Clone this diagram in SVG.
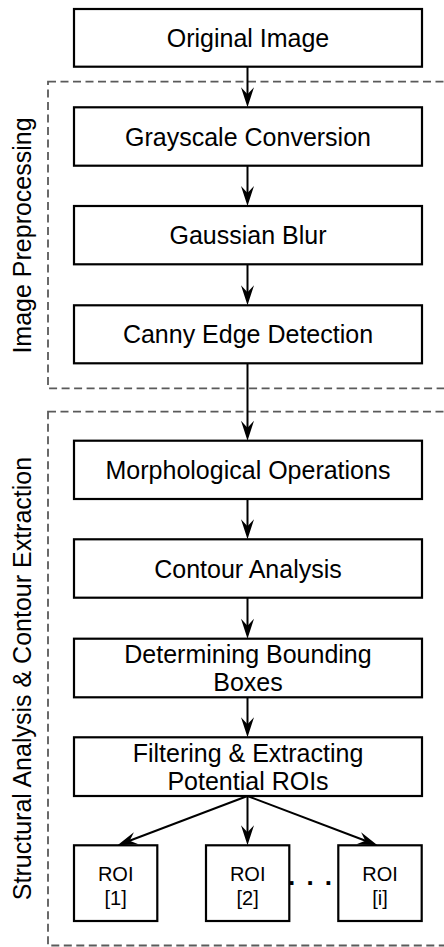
<svg xmlns="http://www.w3.org/2000/svg" width="444" height="947" viewBox="0 0 444 947">
<style>
.box{fill:#fff;stroke:#000;stroke-width:2.2}
.grp{fill:none;stroke:#5a5a5a;stroke-width:1.8;stroke-dasharray:8 4.5}
.t{font-family:"Liberation Sans",Arial,sans-serif;font-size:25px;fill:#000;text-anchor:middle}
.r{font-family:"Liberation Sans",Arial,sans-serif;font-size:20px;fill:#000;text-anchor:middle}
.lab{font-family:"Liberation Sans",Arial,sans-serif;font-size:25px;fill:#000;text-anchor:middle}
.c{fill:none;stroke:#000;stroke-width:2}
</style>
<defs>
<marker id="ah" markerUnits="userSpaceOnUse" viewBox="-11 -7 22 14" markerWidth="22" markerHeight="14" refX="0" refY="0" orient="auto">
<path d="M10,0 L-10,-6.5 L-3,0 L-10,6.5 Z" fill="#000"/>
</marker>
</defs>
<rect width="444" height="947" fill="#fff"/>
<g id="group-preprocessing">
<rect class="grp" x="48" y="81.7" width="420" height="306.6"/>
<text class="lab" transform="translate(30.5,235.5) rotate(-90)">Image Preprocessing</text>
</g>
<g id="group-structural">
<rect class="grp" x="48" y="411.7" width="420" height="533.8"/>
<text class="lab" transform="translate(30.5,678.5) rotate(-90)">Structural Analysis &amp; Contour Extraction</text>
</g>
<g id="connectors">
<line class="c" x1="247.5" y1="67" x2="247.5" y2="97.3" marker-end="url(#ah)"/>
<line class="c" x1="247.5" y1="165.7" x2="247.5" y2="196" marker-end="url(#ah)"/>
<line class="c" x1="247.5" y1="264.3" x2="247.5" y2="295.3" marker-end="url(#ah)"/>
<line class="c" x1="247.5" y1="363.3" x2="247.5" y2="430.7" marker-end="url(#ah)"/>
<line class="c" x1="247.5" y1="499" x2="247.5" y2="529.3" marker-end="url(#ah)"/>
<line class="c" x1="247.5" y1="597.7" x2="247.5" y2="628.7" marker-end="url(#ah)"/>
<line class="c" x1="247.5" y1="697.3" x2="247.5" y2="727.3" marker-end="url(#ah)"/>
<line class="c" x1="247.5" y1="796" x2="247.5" y2="835.3" marker-end="url(#ah)"/>
<line class="c" x1="247.5" y1="796" x2="126.85" y2="841.75" marker-end="url(#ah)"/>
<line class="c" x1="247.5" y1="796" x2="368.15" y2="841.75" marker-end="url(#ah)"/>
</g>
<g id="original-image">
<rect class="box" x="74" y="9" width="348" height="57.7"/>
<text class="t" x="248" y="46.8">Original Image</text>
</g>
<g id="grayscale">
<rect class="box" x="74" y="107.3" width="348" height="58.4"/>
<text class="t" x="248" y="145.5">Grayscale Conversion</text>
</g>
<g id="gaussian">
<rect class="box" x="74" y="206" width="348" height="58.3"/>
<text class="t" x="248" y="244.4">Gaussian Blur</text>
</g>
<g id="canny">
<rect class="box" x="74" y="305.3" width="348" height="58"/>
<text class="t" x="248" y="343.3">Canny Edge Detection</text>
</g>
<g id="morphological">
<rect class="box" x="74" y="440.7" width="348" height="58.3"/>
<text class="t" x="248" y="478.9">Morphological Operations</text>
</g>
<g id="contour">
<rect class="box" x="74" y="539.3" width="348" height="58.4"/>
<text class="t" x="248" y="577.5">Contour Analysis</text>
</g>
<g id="bounding">
<rect class="box" x="74" y="638.7" width="348" height="58.6"/>
<text class="t" x="248" y="663.3">Determining Bounding</text>
<text class="t" x="248" y="691">Boxes</text>
</g>
<g id="filtering">
<rect class="box" x="74" y="737.3" width="348" height="58.7"/>
<text class="t" x="248" y="761.7">Filtering &amp; Extracting</text>
<text class="t" x="248" y="789.5">Potential ROIs</text>
</g>
<g id="roi-1">
<rect class="box" x="74" y="845.3" width="83.3" height="75.7"/>
<text class="r" x="115.7" y="880.5">ROI</text>
<text class="r" x="115.7" y="905">[1]</text>
</g>
<g id="roi-2">
<rect class="box" x="206" y="845.3" width="83.3" height="75.7"/>
<text class="r" x="247.7" y="880.5">ROI</text>
<text class="r" x="247.7" y="905">[2]</text>
</g>
<g id="roi-i">
<rect class="box" x="338.3" y="845.3" width="83.4" height="75.7"/>
<text class="r" x="380" y="880.5">ROI</text>
<text class="r" x="380" y="905">[i]</text>
</g>
<g id="ellipsis">
<text x="288.1" y="884.6" style="font-family:'Liberation Sans',Arial,sans-serif;font-size:26px;font-weight:bold;letter-spacing:11.1px;fill:#000">...</text>
</g>
</svg>
